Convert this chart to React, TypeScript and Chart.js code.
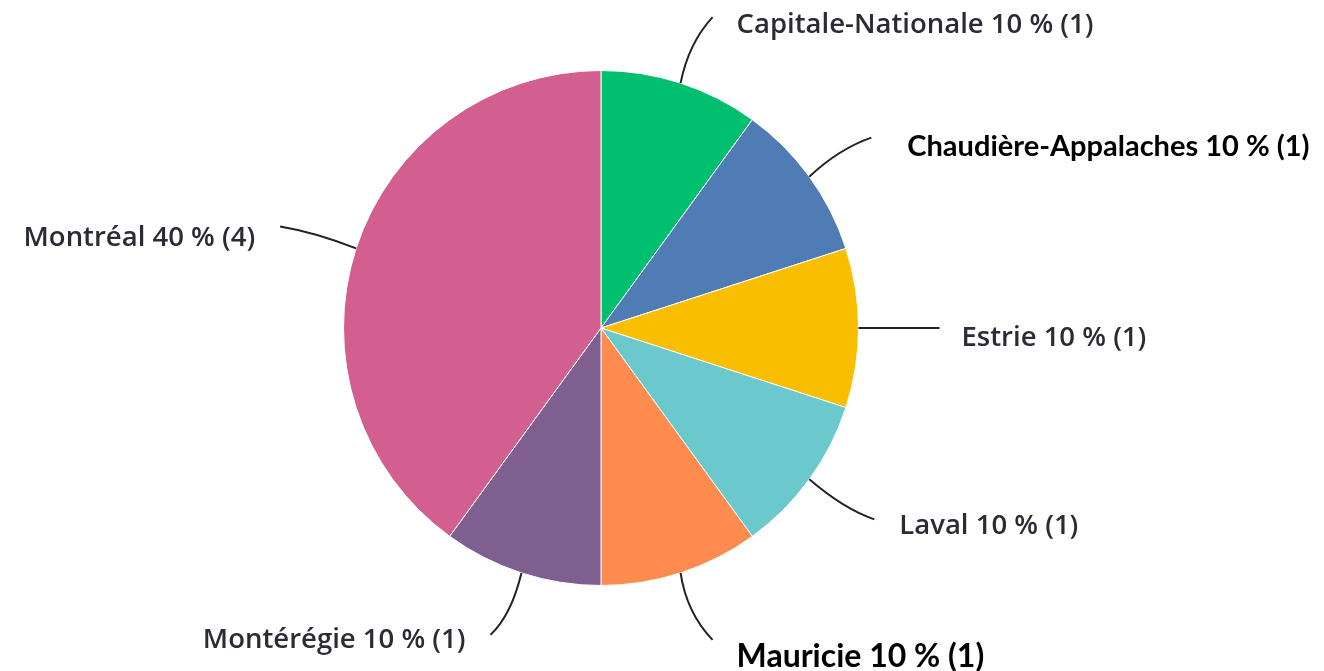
import React, { useEffect, useRef } from "react";
import { Chart, registerables } from "chart.js";

Chart.register(...registerables);

const regions = [
  "Capitale-Nationale",
  "Chaudière-Appalaches",
  "Estrie",
  "Laval",
  "Mauricie",
  "Montérégie",
  "Montréal",
];
const counts = [1, 1, 1, 1, 1, 1, 4];
const percents = [10, 10, 10, 10, 10, 10, 40];
const colors = ["#00BF6F", "#507CB6", "#F9BE00", "#6BC8CD", "#FF8B4F", "#7F5F90", "#D25F90"];
const boldLabels = [false, true, false, false, true, false, false];

// leader line end offsets (from slice edge), control offsets, label offsets (from line end)
const leader = [
  { dx: 32, dy: -66, cx: 8, cy: -40, lx: 24, ly: 8, align: "left" },
  { dx: 62, dy: -39, cx: 30, cy: -28, lx: 36, ly: 9, align: "left" },
  { dx: 81, dy: 0, cx: 40, cy: 0, lx: 22, ly: 10, align: "left" },
  { dx: 65, dy: 40, cx: 35, cy: 30, lx: 25, ly: 7, align: "left" },
  { dx: 32, dy: 67, cx: 6, cy: 40, lx: 24, ly: 17, align: "left" },
  { dx: -31, dy: 62, cx: -10, cy: 42, lx: -25, ly: 5, align: "right" },
  { dx: -76, dy: -22, cx: -40, cy: -16, lx: -25, ly: 12, align: "right" },
];

const labelPlugin = {
  id: "leaderLabels",
  afterDraw(chart: any) {
    const ctx = chart.ctx;
    const meta = chart.getDatasetMeta(0);
    meta.data.forEach((arc: any, i: number) => {
      const mid = (arc.startAngle + arc.endAngle) / 2;
      const sx = arc.x + Math.cos(mid) * arc.outerRadius;
      const sy = arc.y + Math.sin(mid) * arc.outerRadius;
      const L = leader[i];
      const ex = sx + L.dx;
      const ey = sy + L.dy;
      ctx.save();
      ctx.strokeStyle = "#222";
      ctx.lineWidth = 2;
      ctx.beginPath();
      ctx.moveTo(sx, sy);
      ctx.quadraticCurveTo(sx + L.cx, sy + L.cy, ex, ey);
      ctx.stroke();
      const text = `${regions[i]} ${percents[i]} % (${counts[i]})`;
      if (boldLabels[i]) {
        ctx.font = i === 4 ? "bold 32px Lato" : "bold 29px Lato";
        ctx.fillStyle = "#000";
      } else {
        ctx.font = "600 27.5px 'Open Sans'";
        ctx.fillStyle = "#2b2b36";
      }
      ctx.textAlign = L.align;
      ctx.textBaseline = "middle";
      ctx.fillText(text, ex + L.lx, ey + L.ly);
      ctx.restore();
    });
  },
};

export default function App() {
  const ref = useRef<HTMLCanvasElement>(null);
  useEffect(() => {
    const chart = new Chart(ref.current!, {
      type: "pie",
      data: {
        labels: regions,
        datasets: [
          {
            data: counts,
            backgroundColor: colors,
            borderColor: "#ffffff",
            borderWidth: 1,
          },
        ],
      },
      options: {
        animation: false,
        responsive: true,
        maintainAspectRatio: false,
        layout: { padding: { top: 70, bottom: 85, left: 200, right: 322 } },
        plugins: { legend: { display: false }, tooltip: { enabled: false } },
      },
      plugins: [labelPlugin],
    });
    return () => chart.destroy();
  }, []);
  return (
    <div style={{ position: "fixed", left: 0, top: 0, width: 1324, height: 671, background: "#fff" }}>
      <canvas ref={ref} />
    </div>
  );
}
